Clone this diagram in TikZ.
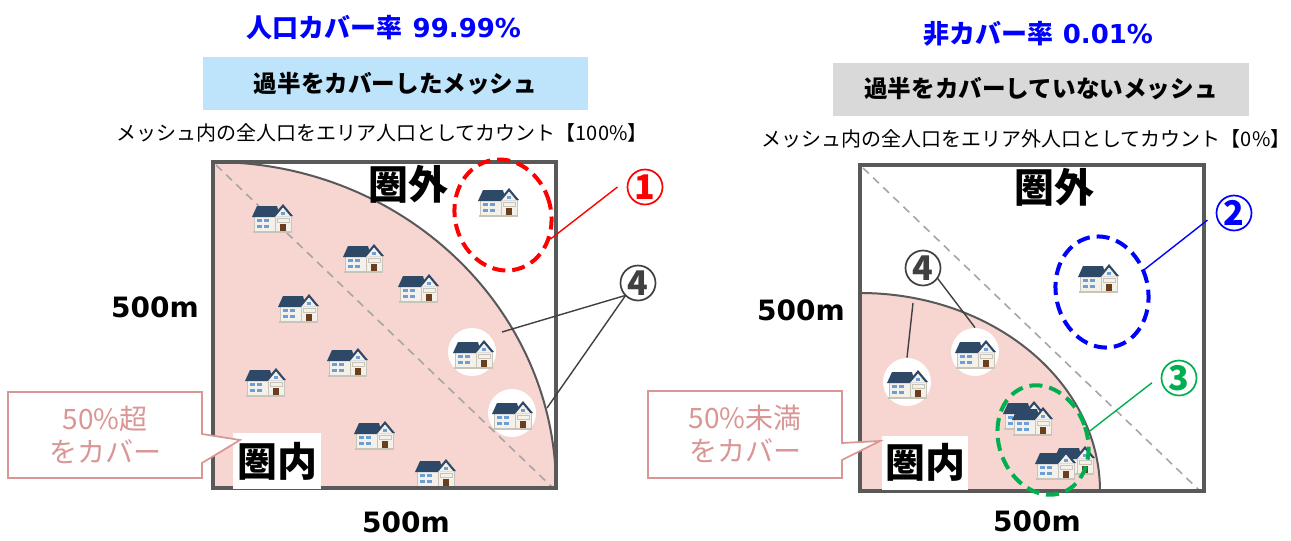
\documentclass[tikz,border=0pt]{standalone}
\usepackage{fontspec}
\usetikzlibrary{shapes.geometric}
\newfontfamily\jp{Noto Sans CJK JP}
\newfontfamily\vd{DejaVu Sans}
\definecolor{framegray}{HTML}{595959}
\definecolor{diaggray}{HTML}{A6A6A6}
\definecolor{zonepink}{HTML}{F7D5D0}
\definecolor{boxblue}{HTML}{BDE4FA}
\definecolor{boxgray}{HTML}{D9D9D9}
\definecolor{calloutpink}{HTML}{D99694}
\definecolor{titleblue}{HTML}{0000FF}
\definecolor{markgreen}{HTML}{00B050}
\definecolor{markgray}{HTML}{404040}
\definecolor{roofc}{HTML}{2E4867}
\definecolor{wallc}{HTML}{F4F1EA}
\definecolor{wallline}{HTML}{C9C4BA}
\definecolor{winc}{HTML}{6E9ED6}
\definecolor{doorc}{HTML}{6B3F1D}
\tikzset{
  frame/.style={draw=framegray, line width=2pt},
  diag/.style={draw=diaggray, line width=0.8pt, dash pattern=on 4pt off 3pt},
  arcline/.style={draw=framegray, line width=1pt},
  hlcircle/.style={circle, fill=white, minimum size=24pt, inner sep=0pt},
  ring/.style={ellipse, draw=#1, line width=2pt, dash pattern=on 6.5pt off 3.5pt, inner sep=0pt},
  numc/.style={circle, draw=#1, text=#1, line width=0.85pt, minimum size=17.5pt, inner sep=0pt,
    outer sep=0pt, font={\jp\bfseries\fontsize{17pt}{17pt}\selectfont}},
  lead/.style={draw=#1, line width=0.7pt},
  title/.style={text=titleblue, font={\bfseries\fontsize{13pt}{15pt}\selectfont}},
  headbox/.style={fill=#1, minimum height=26.5pt, inner sep=0pt,
    font={\jp\bfseries\fontsize{11.8pt}{14pt}\selectfont}},
  note/.style={font={\jp\fontsize{10pt}{12pt}\selectfont}},
  zone/.style={font={\jp\bfseries\fontsize{20pt}{22pt}\selectfont}},
  size/.style={font={\vd\bfseries\fontsize{14pt}{16pt}\selectfont}},
  callout/.style={draw=calloutpink, fill=white, line width=0.85pt},
  callouttext/.style={text=calloutpink, align=center,
    font={\jp\fontsize{14pt}{16.5pt}\selectfont}},
  house/.pic={
    % two-storey block with hipped roof
    \filldraw[fill=wallc, draw=wallline, line width=0.3pt] (-18,-2) rectangle (4,13);
    \fill[roofc] (-20,-1) -- (-15,-12) -- (5,-12) -- (8,-1) -- cycle;
    \foreach \wx in {-15,-8} \foreach \wy in {1,7} \fill[winc] (\wx,\wy) rectangle ++(5,3);
    % gabled front block
    \filldraw[fill=wallc, draw=wallline, line width=0.3pt] (3,-3) rectangle (19,13);
    \fill[roofc] (1,-2) -- (11,-14) -- (21,-2) -- cycle;
    \fill[wallc] (4,-2) -- (11,-10.5) -- (18,-2) -- cycle;
    \fill[winc] (9,-6) rectangle (13,-3);
    \filldraw[fill=wallc, draw=wallline, line width=0.3pt] (5,0) rectangle (17,4);
    \fill[doorc] (8,6) rectangle (14,13);
    \fill[wallline] (-19,12.5) rectangle (20,14.5);
  }
}
\begin{document}
\begin{tikzpicture}[x=0.5pt,y=-0.5pt]
\useasboundingbox (0,0) rectangle (1291,541);
\fill[white] (0,0) rectangle (1291,541);

% ---------- left mesh: majority covered ----------
\begin{scope}
  \clip (213,162) rectangle (556,488);
  \fill[zonepink] (213,488) ellipse [x radius=343, y radius=326];
  \draw[arcline] (213,488) ellipse [x radius=343, y radius=326];
\end{scope}
\draw[diag] (216,165) -- (553,488);

\foreach \p in {(272,218),(363,258),(418,288),(298,308),(347,362),(265,382),(374,435),(435,473),(498,202)}
  \pic at \p {house};
\node[hlcircle] (hl1) at (472,352) {};
\node[hlcircle] (hl2) at (512,413) {};
\pic at (473,354) {house};
\pic at (512,415) {house};

\draw[frame] (213,162) rectangle (556,488);

\node[zone] (out1) at (408,184) {圏外};
\node[zone, fill=white, minimum width=44pt, minimum height=28pt, inner sep=0pt] (in1) at (277,461) {圏内};

\node[ring=red, minimum width=48pt, minimum height=56pt, rotate=15] (e1) at (503,215) {};
\node[numc=red, outer sep=5pt] (n1) at (645,187) {1};
\draw[lead=red] (e1.-42) -- (n1.west);

\node[numc=markgray] (n4a) at (638,283) {4};
\coordinate (p4a) at (502,332);
\coordinate (p4b) at (547,408);
\draw[lead=markgray] (n4a.225) -- (p4a);
\draw[lead=markgray] (n4a.225) -- (p4b);

\node[size] (w1) at (155,307) {500m};
\node[size] (h1) at (406,522) {500m};

\draw[callout] (8,392) -- (202,392) -- (202,434) -- (240,440) -- (202,463) -- (202,478) -- (8,478) -- cycle;
\node[callouttext] (c1) at (105,435) {50\%超\\をカバー};

\node[title] (t1) at (384,28) {{\jp 人口カバー率} {\vd 99.99\%}};
\node[headbox=boxblue, minimum width=192.5pt] (b1) at (395.5,83.5) {過半をカバーしたメッシュ};
\node[note] (s1) at (382,133) {メッシュ内の全人口をエリア人口としてカウント【100\%】};

% ---------- right mesh: majority not covered ----------
\begin{scope}
  \clip (860,165) rectangle (1204,491);
  \fill[zonepink] (860,491) ellipse [x radius=240, y radius=198];
  \draw[arcline] (860,491) ellipse [x radius=240, y radius=198];
\end{scope}
\draw[diag] (863,168) -- (1199,490);

\pic at (1098,278) {house};
\node[hlcircle] (hl3) at (907,382) {};
\node[hlcircle] (hl4) at (975,352) {};
\pic at (907,384) {house};
\pic at (975,354) {house};
\pic at (1023,415) {house};
\pic at (1032,421) {house};
\pic at (1074,460) {house};
\pic at (1055,465) {house};

\draw[frame] (860,165) rectangle (1204,491);

\node[zone] (out2) at (1054,187) {圏外};
\node[zone, fill=white, minimum width=43pt, minimum height=27pt, inner sep=0pt] (in2) at (925,462.5) {圏内};

\node[ring=blue, minimum width=46pt, minimum height=56pt, rotate=13] (e2) at (1102,292) {};
\node[numc=blue, outer sep=5pt] (n2) at (1234,213) {2};
\draw[lead=blue] (e2.15) -- (n2.195);

\node[ring=markgreen, minimum width=44pt, minimum height=56pt, rotate=20] (e3) at (1043,440) {};
\node[numc=markgreen, outer sep=5pt] (n3) at (1179,378) {3};
\draw[lead=markgreen] (e3.-10) -- (n3.190);

\node[numc=markgray] (n4b) at (923,268) {4};
\coordinate (p4c) at (913,303);
\draw[lead=markgray] (n4b.-35) -- (hl4.north);
\draw[lead=markgray] (p4c) -- (hl3.north);

\node[size] (w2) at (801,310) {500m};
\node[size] (h2) at (1037,521) {500m};

\draw[callout] (648,391) -- (842,391) -- (842,443) -- (880,441) -- (842,460) -- (842,478) -- (648,478) -- cycle;
\node[callouttext] (c2) at (745,434) {50\%未満\\をカバー};

\node[title] (t2) at (1038,34) {{\jp 非カバー率} {\vd 0.01\%}};
\node[headbox=boxgray, minimum width=208pt] (b2) at (1041,89) {過半をカバーしていないメッシュ};
\node[note] (s2) at (1026,139) {メッシュ内の全人口をエリア外人口としてカウント【0\%】};
\end{tikzpicture}
\end{document}
